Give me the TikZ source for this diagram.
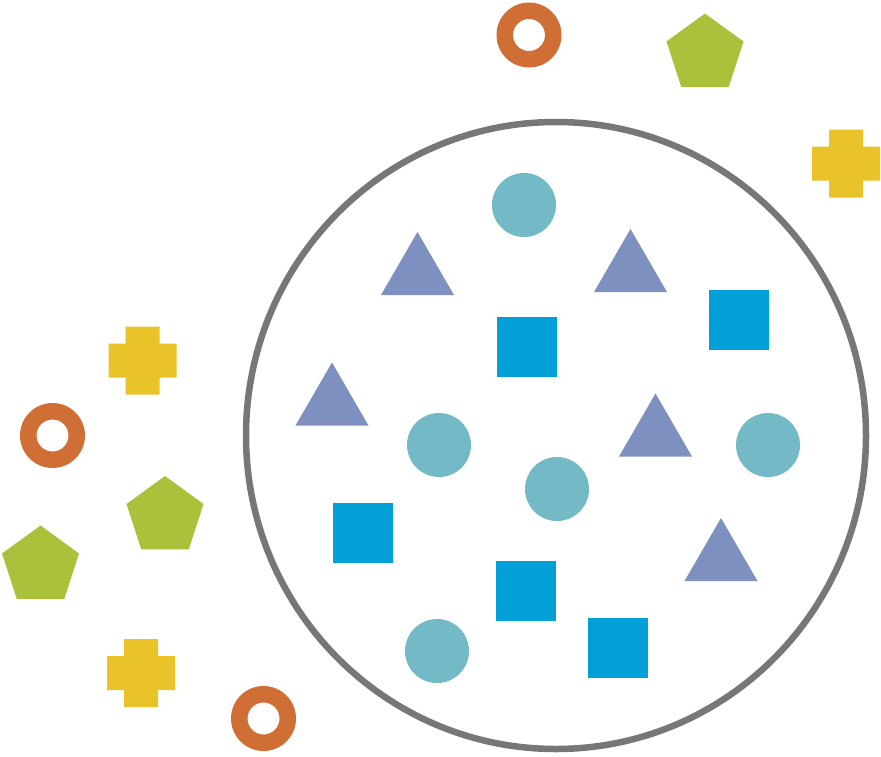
\documentclass[tikz,border=0pt]{standalone}
\usetikzlibrary{shapes.geometric}
\definecolor{cteal}{HTML}{74B9C6}
\definecolor{cblue}{HTML}{039FD7}
\definecolor{cviolet}{HTML}{7E90C0}
\definecolor{corange}{HTML}{CF6F36}
\definecolor{cgreen}{HTML}{AAC13C}
\definecolor{cyellow}{HTML}{EAC22A}
\definecolor{cgray}{HTML}{777777}
\tikzset{
  dot/.style={fill=cteal},
  sq/.style={fill=cblue},
  tri/.style={fill=cviolet},
  ringshape/.style={fill=corange, even odd rule},
  penta/.style={regular polygon, regular polygon sides=5, minimum size=81pt, inner sep=0pt, fill=cgreen, draw=none},
  crossshape/.style={fill=cyellow},
  bigring/.style={draw=cgray, line width=6.5pt}
}
\begin{document}
\begin{tikzpicture}[x=1pt,y=-1pt]
\useasboundingbox (0,0) rectangle (881,756);
% big circle
\draw[bigring] (556,435.5) ellipse[x radius=310pt, y radius=313.5pt];
% teal circles
\foreach \x/\y in {524/205, 439/445, 557/489, 768/445, 437/651}
  \fill[dot] (\x,\y) circle[radius=32pt];
% blue squares
\foreach \x/\y in {527/347, 739/320, 363/533, 526/591, 618/648}
  \fill[sq] (\x-30,\y-30) rectangle (\x+30,\y+30);
% triangles (apex x, apex y)
\foreach \x/\y in {417.5/232, 630.5/229, 332/362.5, 655.5/393.5, 721/518}
  \fill[tri] (\x,\y) -- (\x+36.5,\y+63) -- (\x-36.5,\y+63) -- cycle;
% orange rings
\foreach \x/\y in {529/35, 52.5/435.5, 263.5/718.5}
  \fill[ringshape] (\x,\y) circle[radius=32.5pt] (\x,\y) circle[radius=16pt];
% green pentagons
\node[penta] (p1) at (705,54) {};
\node[penta] (p2) at (165,516.5) {};
\node[penta] (p3) at (40.5,566) {};
% yellow crosses
\foreach \x/\y in {846/163.5, 142.5/360.5, 141/673}
  \fill[crossshape] (\x-34,\y-17) rectangle (\x+34,\y+17) (\x-17,\y-34) rectangle (\x+17,\y+34);
\end{tikzpicture}
\end{document}
